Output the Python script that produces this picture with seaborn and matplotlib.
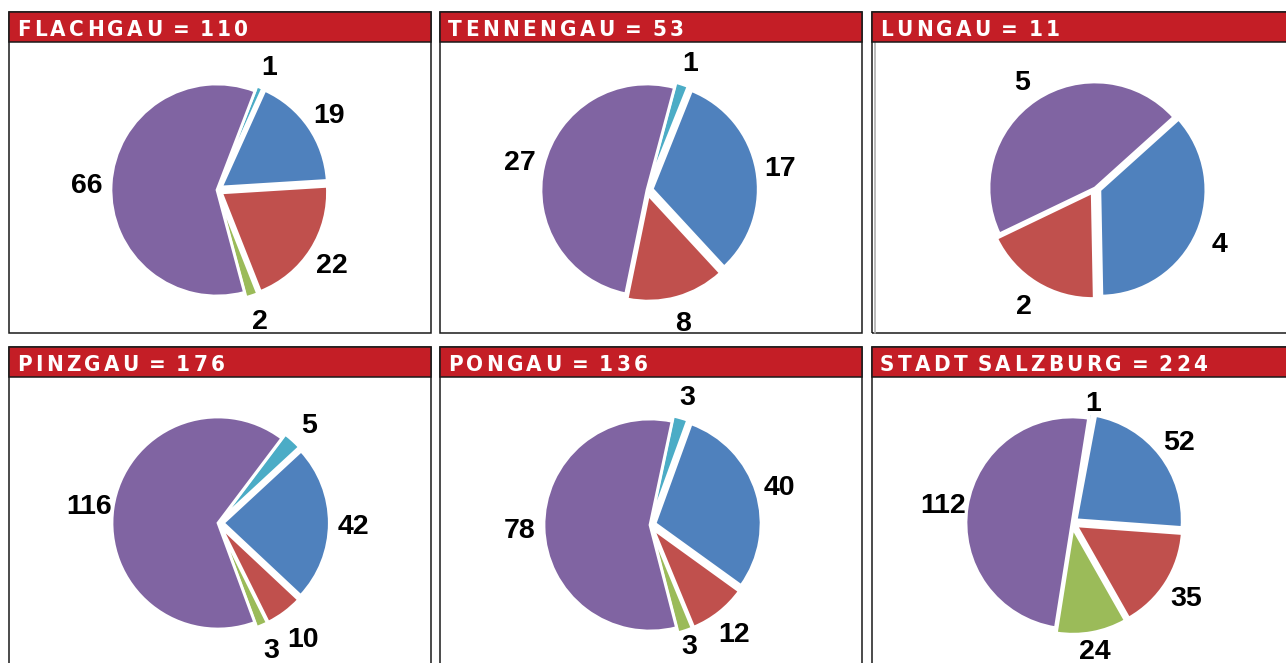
import matplotlib
matplotlib.use("Agg")
import numpy as np
import matplotlib.pyplot as plt
from matplotlib import font_manager as fm
from matplotlib.patches import Rectangle
from matplotlib.lines import Line2D
import seaborn as sns

# counts per district, slice order clockwise from the top
districts = ["FLACHGAU", "TENNENGAU", "LUNGAU", "PINZGAU", "PONGAU", "STADT SALZBURG"]
cyan = [1, 1, 0, 5, 3, 1]
blue = [19, 17, 4, 42, 40, 52]
red = [22, 8, 2, 10, 12, 35]
green = [2, 0, 0, 3, 3, 24]
purple = [66, 27, 5, 116, 78, 112]
start_angles = [69, 75, 42, 53, 78, 81]

slice_colors = ["#4BACC6", "#4F81BD", "#C0504D", "#9BBB59", "#8064A2"]
header_red = "#C41E26"

W, H = 1286, 663
# panel boxes in pixels (x0, y0, x1, y1), y from top
col_x = [(9, 431), (440, 862), (872, 1300)]
row_y = [(12, 333), (347, 700)]
header_h = 30
centers = [(217, 190), (647, 190), (1095, 188), (218, 523), (650, 525), (1072, 523)]
R = 106
LIM = 1.7
LABEL_D = 1.23
# (panel, slice) -> label distance where the original nudges a label
label_d_override = {(5, 0): 1.12, (5, 3): 1.16, (4, 3): 1.13, (3, 2): 1.29}

sns.set_theme(style="white")
plt.rcParams["font.family"] = ["Liberation Sans", "DejaVu Sans"]
palette = sns.color_palette(slice_colors)


def header_font():
    for f in fm.fontManager.ttflist:
        w = f.weight
        bold = (isinstance(w, int) and w >= 600) or str(w).lower() in ("bold", "heavy", "black", "demibold", "semibold")
        narrow = ("Narrow" in f.name or "Condensed" in f.name
                  or str(f.stretch).lower() in ("condensed", "semi-condensed", "extra-condensed"))
        if bold and narrow and f.style == "normal":
            return fm.FontProperties(fname=f.fname, size=16), 3.3, 7.0
    return fm.FontProperties(family="Liberation Sans", weight="bold", size=15), 2.0, 9.0


hfont, track, space_w = header_font()

fig = plt.figure(figsize=(W / 100, H / 100), dpi=100)
fig.patch.set_facecolor("white")
renderer = fig.canvas.get_renderer()


def fig_rect(x0, y0, x1, y1, **kw):
    r = Rectangle((x0 / W, 1 - y1 / H), (x1 - x0) / W, (y1 - y0) / H,
                  transform=fig.transFigure, **kw)
    fig.add_artist(r)
    return r


def spaced_title(x, y, s):
    # letter-spaced header text, one glyph at a time
    for ch in s:
        if ch == " ":
            x += space_w
            continue
        t = fig.text(x / W, 1 - y / H, ch, color="white", fontproperties=hfont,
                     ha="left", va="baseline", zorder=5)
        x += t.get_window_extent(renderer).width + track


for i, name in enumerate(districts):
    cx0, cx1 = col_x[i % 3]
    ry0, ry1 = row_y[i // 3]
    total = cyan[i] + blue[i] + red[i] + green[i] + purple[i]
    fig_rect(cx0, ry0, cx1, ry1, facecolor="none", edgecolor="#1a1a1a", lw=1.1, zorder=3)
    fig_rect(cx0, ry0, cx1, ry0 + header_h, facecolor=header_red, edgecolor="#1a1a1a",
             lw=1.1, zorder=4)
    spaced_title(cx0 + 8, ry0 + 24.3, f"{name} = {total}")
    if i == 2:
        fig.add_artist(Line2D([(cx0 + 3) / W] * 2, [1 - (ry0 + header_h) / H, 1 - ry1 / H],
                              transform=fig.transFigure, color="#b0b0b0", lw=1.2, zorder=3))

    # pie axes centred on the pie
    cx, cy = centers[i]
    L = R * LIM
    ax = fig.add_axes([(cx - L) / W, 1 - (cy + L) / H, 2 * L / W, 2 * L / H])
    ax.axis("off")

    vals = [cyan[i], blue[i], red[i], green[i], purple[i]]
    keep = [j for j, v in enumerate(vals) if v > 0]
    wedges, texts = ax.pie(
        [vals[j] for j in keep],
        colors=[palette[j] for j in keep],
        explode=[0 if j == 4 else 0.05 for j in keep],
        labels=[str(vals[j]) for j in keep],
        startangle=start_angles[i],
        counterclock=False,
        radius=1,
        wedgeprops=dict(edgecolor="white", linewidth=2),
        textprops=dict(fontsize=20.5, fontweight="bold", color="black"),
    )
    cap = 20.5 * 100 / 72 * 0.716 / R  # digit height in data units
    for j, w, t in zip(keep, wedges, texts):
        ang = np.deg2rad((w.theta1 + w.theta2) / 2)
        d = label_d_override.get((i, j), LABEL_D)
        x0, y0 = w.center
        t.set_position((x0 + d * np.cos(ang), y0 + d * np.sin(ang) - cap / 2))
        t.set_ha("center")
        t.set_va("baseline")
    ax.set_xlim(-LIM, LIM)
    ax.set_ylim(-LIM, LIM)
    ax.set_aspect("equal")

fig.savefig("out.png", dpi=100)
